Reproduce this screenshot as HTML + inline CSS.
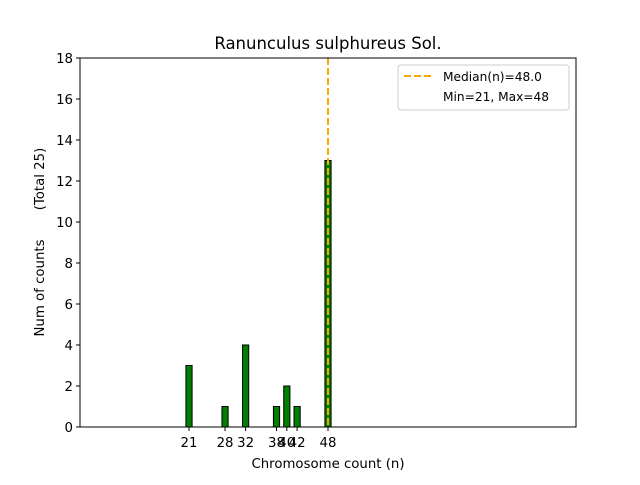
<!DOCTYPE html>
<html><head><meta charset="utf-8"><style>
body{margin:0;background:#fff;font-family:"Liberation Sans","DejaVu Sans",sans-serif}
</style></head><body>
<svg width="640" height="480" font-family="DejaVu Sans, Liberation Sans, sans-serif">
<rect width="640" height="480" fill="#fff"/>
<g id="plot"></g>
<text x="328" y="49" text-anchor="middle" font-size="16.5">Ranunculus sulphureus Sol.</text>
<text x="328" y="468" text-anchor="middle" font-size="13.3">Chromosome count (n)</text>
<text transform="translate(44,288) rotate(-90)" text-anchor="middle" font-size="13.3">Num of counts</text>
<text transform="translate(44,179) rotate(-90)" text-anchor="middle" font-size="13.3">(Total 25)</text>
<g>
<rect x="398" y="65" width="171" height="45" rx="3" fill="#fff" stroke="#ccc"/>
<line x1="404" y1="76" x2="432" y2="76" stroke="orange" stroke-width="2" stroke-dasharray="7,3"/>
<text x="443" y="81" font-size="12.2">Median(n)=48.0</text>
<text x="443" y="101" font-size="12.2">Min=21, Max=48</text>
</g>
</svg>
<script>
const categories=[21,28,32,38,40,42,48];
const counts=[3,1,4,1,2,1,13];
const yTicks=[0,2,4,6,8,10,12,14,16,18];
const median=48;
const NS="http://www.w3.org/2000/svg";
const g=document.getElementById('plot');
const L=80,R=576,T=58,B=427;
function x(v){return 189+(v-21)*(139/27);}
function y(v){return B-(v/18)*(B-T);}
function mk(t,a,p){const e=document.createElementNS(NS,t);for(const k in a)e.setAttribute(k,a[k]);(p||g).appendChild(e);return e;}
let bl=mk('line',{x1:L,y1:B,x2:x(51.3),y2:B,stroke:'#000','stroke-width':1});


categories.forEach((c,i)=>{
 const r=mk('rect',{x:x(c-0.6),y:y(counts[i]),width:x(c+0.6)-x(c-0.6),height:B-y(counts[i]),fill:'green',stroke:'#000','stroke-width':1});
 
 
 const tk=mk('line',{x1:x(c),y1:B,x2:x(c),y2:B+4,stroke:'#000'});
 
 
 const t=mk('text',{x:x(c),y:B+20,'text-anchor':'middle','font-size':13.3});
 t.textContent=c;
 
 
});
yTicks.forEach(v=>{
 const tk=mk('line',{x1:L-4,y1:y(v),x2:L,y2:y(v),stroke:'#000'});
 
 
 const t=mk('text',{x:L-7,y:y(v)+5,'text-anchor':'end','font-size':13.3});
 t.textContent=v;
 
 
});
const ml=mk('line',{x1:x(median),y1:T,x2:x(median),y2:B,stroke:'orange','stroke-width':2,'stroke-dasharray':'7,3'});


const fr=mk('rect',{x:L,y:T,width:R-L,height:B-T,fill:'none',stroke:'#000','stroke-width':1});


</script>
</body></html>
